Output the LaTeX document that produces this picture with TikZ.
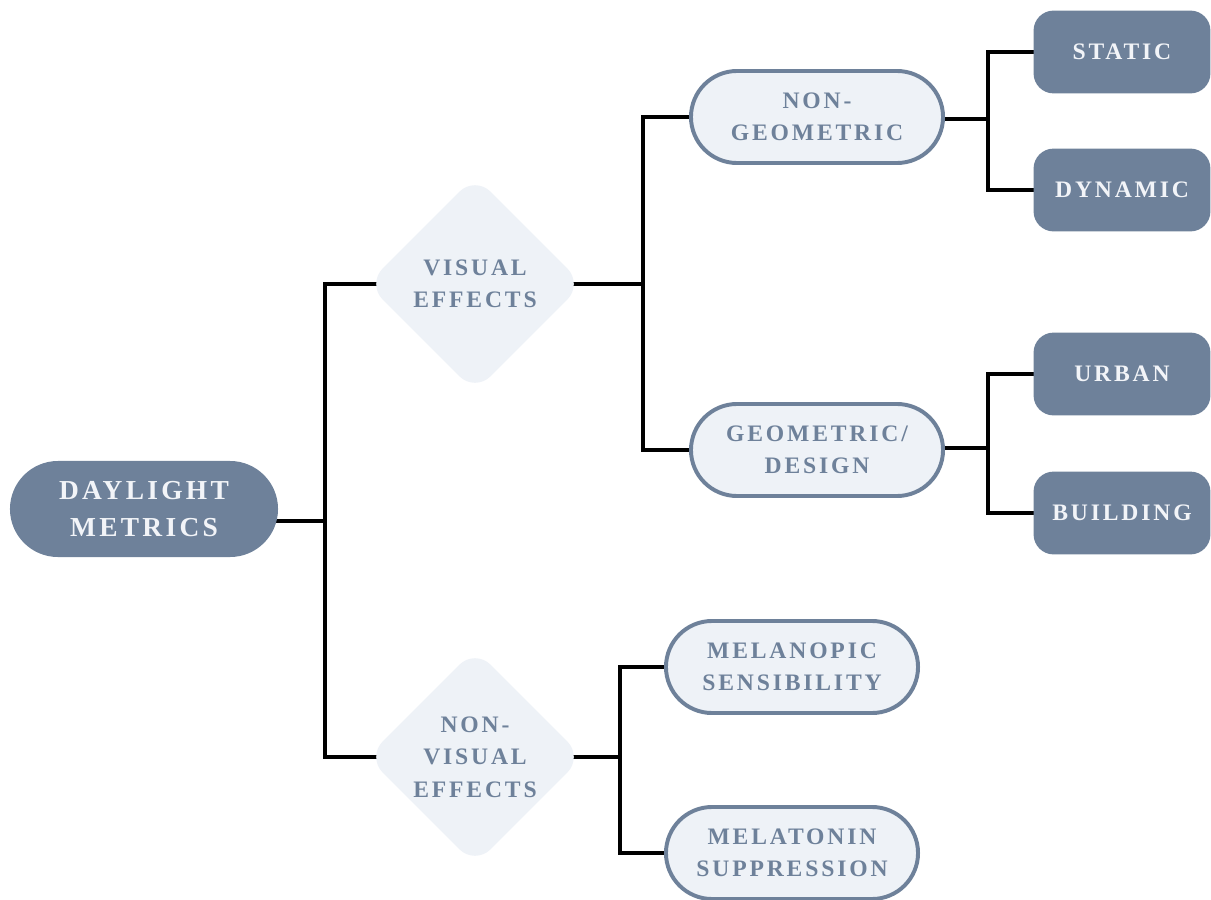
\documentclass[tikz,border=0pt]{standalone}
\usepackage{fontspec}
\setmainfont{Liberation Serif}
\newfontfamily\spaced[LetterSpace=12]{Liberation Serif}
\usetikzlibrary{shapes.geometric, backgrounds}
\definecolor{cslate}{HTML}{6E819A}
\definecolor{cpale}{HTML}{EEF2F7}
\definecolor{csnow}{HTML}{F2F4F8}
\tikzset{
  every picture/.style={x=0.025cm, y=-0.025cm},
  root/.style={fill=cslate, text=csnow, rounded corners=1.2cm, minimum width=6.7cm, minimum height=2.4cm,
    align=center, inner sep=0pt, font=\spaced\bfseries\fontsize{19.5}{26}\selectfont},
  choice/.style={diamond, aspect=1, fill=cpale, text=cslate, rounded corners=0.55cm, minimum width=5.4cm,
    minimum height=5.4cm, inner sep=0pt, align=center, font=\spaced\bfseries\fontsize{16.8}{23}\selectfont},
  branch/.style={draw=cslate, line width=2.8pt, fill=cpale, text=cslate, rounded corners=1.15cm,
    minimum width=6.3cm, minimum height=2.3cm, inner sep=0pt, align=center,
    font=\spaced\bfseries\fontsize{16.8}{23}\selectfont},
  leaf/.style={fill=cslate, text=csnow, rounded corners=0.5cm, minimum width=4.42cm, minimum height=2.07cm,
    inner sep=0pt, align=center, font=\spaced\bfseries\fontsize{16.8}{23}\selectfont},
  link/.style={draw=black, line width=3pt},
}
\begin{document}
\begin{tikzpicture}
  \useasboundingbox (0,0) rectangle (1211,900);
  % root and the two kinds of effects
  \node[root] (daylight) at (144,509) {DAYLIGHT\\METRICS};
  \node[choice] (visual) at (475,284) {VISUAL\\EFFECTS};
  \node[choice] (nonvisual) at (475,757) {NON-\\VISUAL\\EFFECTS};
  % visual branch
  \node[branch] (nongeo) at (817,117) {NON-\\GEOMETRIC};
  \node[branch] (geo) at (817,450) {GEOMETRIC/\\DESIGN};
  \node[leaf] (static) at (1122,52) {STATIC};
  \node[leaf] (dynamic) at (1122,190) {DYNAMIC};
  \node[leaf] (urban) at (1122,374) {URBAN};
  \node[leaf] (building) at (1122,513) {BUILDING};
  % non-visual branch
  \node[branch] (melanopic) at (792,667) {MELANOPIC\\SENSIBILITY};
  \node[branch] (melatonin) at (792,853) {MELATONIN\\SUPPRESSION};
  % junctions
  \coordinate (jroot) at (325,521);
  \coordinate (jvis) at (643,284);
  \coordinate (jnongeo) at (988,119);
  \coordinate (jgeo) at (988,448);
  \coordinate (jnonvis) at (620,757);
  \begin{scope}[on background layer]
    \draw[link] (daylight.center |- jroot) -- (jroot);
    \draw[link] (visual.center) -| (jroot) |- (nonvisual.center);
    \draw[link] (visual.center) -- (jvis);
    \draw[link] (nongeo.center) -| (jvis) |- (geo.center);
    \draw[link] (nongeo.center |- jnongeo) -- (jnongeo);
    \draw[link] (static.center) -| (jnongeo) |- (dynamic.center);
    \draw[link] (geo.center |- jgeo) -- (jgeo);
    \draw[link] (urban.center) -| (jgeo) |- (building.center);
    \draw[link] (nonvisual.center) -- (jnonvis);
    \draw[link] (melanopic.center) -| (jnonvis) |- (melatonin.center);
  \end{scope}
\end{tikzpicture}
\end{document}
